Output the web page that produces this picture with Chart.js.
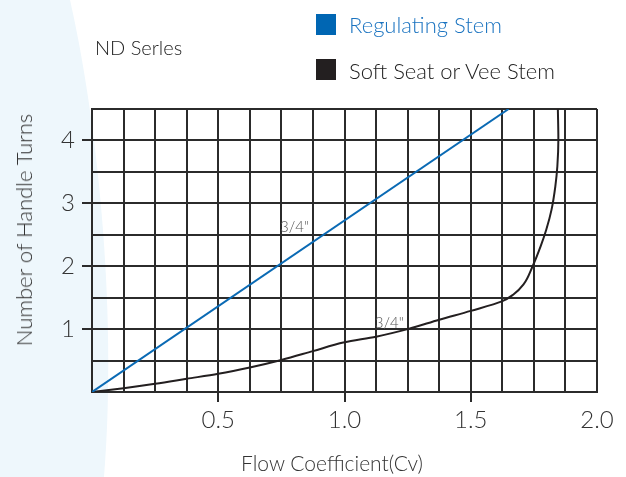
<!DOCTYPE html>
<html>
<head>
<meta charset="utf-8">
<script src="https://cdn.jsdelivr.net/npm/chart.js@4/dist/chart.umd.min.js"></script>
<style>
  html, body { margin: 0; padding: 0; background: #fff; }
  #wrap { position: relative; width: 626px; height: 477px; font-family: Lato, "Noto Sans", sans-serif; }
  #c { position: absolute; left: 0; top: 0; }
  .note { position: absolute; font-weight: 300; color: #222; white-space: nowrap; line-height: 1; }
  .sw { position: absolute; width: 20px; height: 21px; }
  .ytitle { position: absolute; left: 23.5px; top: 230px; transform: translate(-50%, -50%) rotate(-90deg); }
  .xtitle { position: absolute; left: 332px; top: 462px; transform: translate(-50%, -50%); }
</style>
</head>
<body>
<div id="wrap">
  <canvas id="c" width="626" height="477"></canvas>
  <div class="note" style="left:95px; top:37px; font-size:20px;">ND Serles</div>
  <div class="sw" style="left:316px; top:14px; background:#0066b3;"></div>
  <div class="note" style="left:349px; top:14px; font-size:22px; color:#1a73c0;">Regulating Stem</div>
  <div class="sw" style="left:316px; top:59px; background:#231f20;"></div>
  <div class="note" style="left:349px; top:60px; font-size:22px;">Soft Seat or Vee Stem</div>
  <div class="note ytitle" style="font-size:22px; color:#333;">Number of Handle Turns</div>
  <div class="note xtitle" style="font-size:21px; color:#333;">Flow Coefficient(Cv)</div>
</div>
<script>
// Regulating stem: straight line, Cv vs turns
const regCv    = [0, 1.65];
const regTurns = [0, 4.5];

// Soft seat / vee stem curve
const softCv    = [0, 0.125, 0.25, 0.375, 0.5, 0.625, 0.75, 0.875, 1.0, 1.125, 1.25, 1.375, 1.5, 1.623, 1.669, 1.709, 1.745, 1.777, 1.799, 1.82, 1.835, 1.843, 1.847, 1.845];
const softTurns = [0, 0.06, 0.13, 0.21, 0.29, 0.39, 0.51, 0.65, 0.79, 0.88, 1.0, 1.15, 1.29, 1.44, 1.55, 1.71, 2.0, 2.32, 2.58, 2.9, 3.27, 3.59, 4.02, 4.5];

// size annotations (left edge x, middle y in data units)
const sizeLabels = [
  { text: '3/4"', cv: 0.745, turns: 2.62 },
  { text: '3/4"', cv: 1.12, turns: 1.10 }
];

const xTickLabels = { 0.5: '0.5', 1: '1.0', 1.5: '1.5', 2: '2.0' };
const yTickLabels = { 1: '1', 2: '2', 3: '3', 4: '4' };

const toPts = (xs, ys) => xs.map((x, i) => ({ x: x, y: ys[i] }));

const GRID = '#2b2b2b';
const FONT = 'Lato, "Noto Sans", sans-serif';

// pale blue swoosh behind the left side
const bgShape = {
  id: 'bgShape',
  beforeDraw(chart) {
    const ctx = chart.ctx;
    ctx.save();
    ctx.fillStyle = '#eef7fc';
    ctx.beginPath();
    ctx.moveTo(0, 0);
    ctx.lineTo(70, 0);
    ctx.bezierCurveTo(95, 110, 118, 300, 104, 477);
    ctx.lineTo(0, 477);
    ctx.closePath();
    ctx.fill();
    ctx.restore();
  }
};

const sizeText = {
  id: 'sizeText',
  afterDatasetsDraw(chart) {
    const ctx = chart.ctx;
    const xs = chart.scales.x, ys = chart.scales.y;
    ctx.save();
    ctx.font = '300 15px ' + FONT;
    ctx.fillStyle = '#555';
    ctx.textBaseline = 'middle';
    ctx.textAlign = 'left';
    sizeLabels.forEach(l => {
      ctx.fillText(l.text, xs.getPixelForValue(l.cv), ys.getPixelForValue(l.turns));
    });
    ctx.restore();
  }
};

new Chart(document.getElementById('c'), {
  type: 'scatter',
  data: {
    datasets: [
      {
        label: 'Regulating Stem',
        data: toPts(regCv, regTurns),
        showLine: true,
        borderColor: '#0a6ab4',
        borderWidth: 2,
        pointRadius: 0,
        tension: 0
      },
      {
        label: 'Soft Seat or Vee Stem',
        data: toPts(softCv, softTurns),
        showLine: true,
        indexAxis: 'y',
        cubicInterpolationMode: 'monotone',
        borderColor: '#231f20',
        borderWidth: 2,
        pointRadius: 0
      }
    ]
  },
  options: {
    responsive: false,
    animation: false,
    layout: { padding: { top: 109, right: 29, left: 8, bottom: 0 } },
    plugins: {
      legend: { display: false },
      tooltip: { enabled: false }
    },
    scales: {
      x: {
        type: 'linear',
        min: 0, max: 2,
        afterBuildTicks: s => {
          s.ticks = [];
          for (let i = 0; i <= 16; i++) s.ticks.push({ value: i * 0.125 });
        },
        afterFit: s => { s.height = 85; },
        ticks: {
          autoSkip: false,
          maxRotation: 0,
          padding: 4,
          color: '#333',
          font: { family: FONT, size: 24, weight: 300 },
          callback: v => xTickLabels[v] || ''
        },
        grid: {
          color: GRID,
          lineWidth: 2,
          tickLength: 10,
          tickColor: c => (c.tick && xTickLabels[c.tick.value] && c.tick.value < 2) ? GRID : 'rgba(0,0,0,0)'
        },
        border: { color: GRID, width: 2 }
      },
      y: {
        type: 'linear',
        min: 0, max: 4.5,
        afterBuildTicks: s => {
          s.ticks = [];
          for (let i = 0; i <= 9; i++) s.ticks.push({ value: i * 0.5 });
        },
        afterFit: s => { s.width = 84; },
        ticks: {
          autoSkip: false,
          padding: 7,
          color: '#333',
          font: { family: FONT, size: 24, weight: 300 },
          callback: v => yTickLabels[v] || ''
        },
        grid: {
          color: GRID,
          lineWidth: 2,
          tickLength: 10,
          tickColor: c => (c.tick && yTickLabels[c.tick.value]) ? GRID : 'rgba(0,0,0,0)'
        },
        border: { color: GRID, width: 2 }
      }
    }
  },
  plugins: [bgShape, sizeText]
});
</script>
</body>
</html>
